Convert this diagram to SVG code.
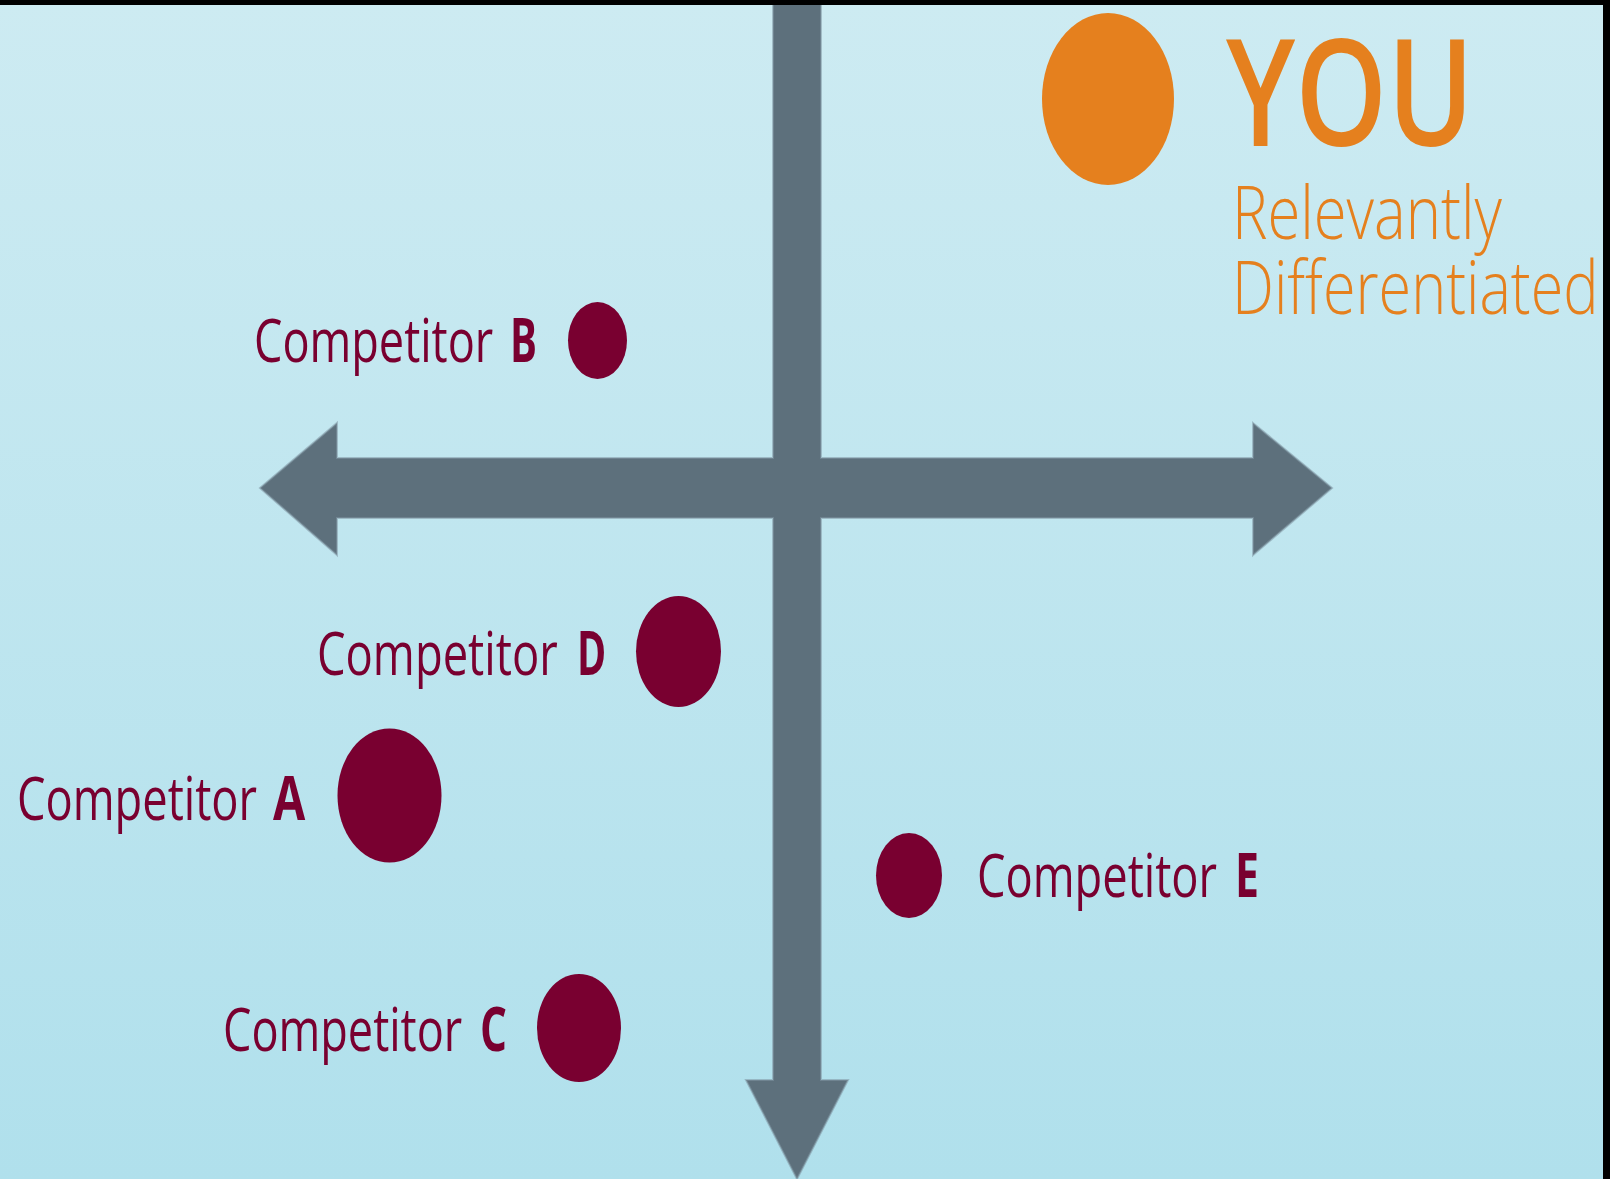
<svg xmlns="http://www.w3.org/2000/svg" width="1610" height="1179" viewBox="0 0 1610 1179">
  <defs>
    <linearGradient id="bg" x1="0" y1="0" x2="0" y2="1">
      <stop offset="0" stop-color="#cdebf2"/>
      <stop offset="1" stop-color="#b0e0ec"/>
    </linearGradient>
    <style>
      .axis { fill: #5d707c; stroke: #7f96a2; stroke-width: 2; stroke-opacity: 0.55; }
      .dot { fill: #790030; }
      .you { fill: #e5801e; }
      .lbl { font-family: "Open Sans", "Liberation Sans", sans-serif; font-size: 60px; fill: #790030; }
      .lbl-b { font-family: "Open Sans", "Liberation Sans", sans-serif; font-size: 60px; font-weight: bold; fill: #790030; }
      .you-t { font-family: "Open Sans", "Liberation Sans", sans-serif; fill: #e5801e; }
    </style>
  </defs>

  <!-- backdrop -->
  <rect x="0" y="0" width="1610" height="1179" fill="url(#bg)"/>

  <!-- axes: one outline for the double-headed horizontal and the downward vertical -->
  <g id="connectors">
    <path class="axis" d="M773,0 H821 V458 H1253 V423 L1332,488 L1253,555 V518 H821 V1080 H848 L797,1179 L746,1080 H773 V518 H337 V555 L260,488 L337,423 V458 H773 Z"/>
  </g>

  <!-- YOU (lettering is set narrow: horizontal scale 0.78) -->
  <g id="node-you">
    <ellipse class="you" cx="1108" cy="99" rx="66" ry="86"/>
    <text class="you-t" transform="translate(1226,146) scale(0.78,1)" font-size="148" font-weight="600" textLength="318" lengthAdjust="spacingAndGlyphs">YOU</text>
    <text class="you-t" transform="translate(1232,239) scale(0.78,1)" font-size="74" font-weight="300" textLength="346" lengthAdjust="spacingAndGlyphs">Relevantly</text>
    <text class="you-t" transform="translate(1232,314) scale(0.78,1)" font-size="74" font-weight="300" textLength="470" lengthAdjust="spacingAndGlyphs">Differentiated</text>
  </g>

  <!-- competitors (labels set narrow: horizontal scale 0.75) -->
  <g id="node-b">
    <ellipse class="dot" cx="597.5" cy="340.5" rx="29.5" ry="38.5"/>
    <text class="lbl" transform="translate(254,362) scale(0.75,1)" textLength="319" lengthAdjust="spacingAndGlyphs">Competitor</text>
    <text class="lbl-b" transform="translate(510,362) scale(0.75,1)" textLength="36" lengthAdjust="spacingAndGlyphs">B</text>
  </g>
  <g id="node-d">
    <ellipse class="dot" cx="678.5" cy="651.5" rx="42.5" ry="55.5"/>
    <text class="lbl" transform="translate(317,675) scale(0.75,1)" textLength="321" lengthAdjust="spacingAndGlyphs">Competitor</text>
    <text class="lbl-b" transform="translate(577,675) scale(0.75,1)" textLength="39" lengthAdjust="spacingAndGlyphs">D</text>
  </g>
  <g id="node-a">
    <ellipse class="dot" cx="389.5" cy="795.5" rx="52" ry="67"/>
    <text class="lbl" transform="translate(17,820) scale(0.75,1)" textLength="320" lengthAdjust="spacingAndGlyphs">Competitor</text>
    <text class="lbl-b" transform="translate(273,820) scale(0.75,1)" textLength="43" lengthAdjust="spacingAndGlyphs">A</text>
  </g>
  <g id="node-e">
    <ellipse class="dot" cx="909" cy="875.5" rx="33" ry="42.5"/>
    <text class="lbl" transform="translate(977,897) scale(0.75,1)" textLength="320" lengthAdjust="spacingAndGlyphs">Competitor</text>
    <text class="lbl-b" transform="translate(1235,897) scale(0.75,1)" textLength="32" lengthAdjust="spacingAndGlyphs">E</text>
  </g>
  <g id="node-c">
    <ellipse class="dot" cx="579" cy="1028" rx="42" ry="54"/>
    <text class="lbl" transform="translate(223,1051) scale(0.75,1)" textLength="319" lengthAdjust="spacingAndGlyphs">Competitor</text>
    <text class="lbl-b" transform="translate(480,1051) scale(0.75,1)" textLength="36" lengthAdjust="spacingAndGlyphs">C</text>
  </g>

  <!-- frame edges -->
  <rect x="0" y="0" width="1610" height="5" fill="#000"/>
  <rect x="1603" y="0" width="7" height="1179" fill="#000"/>
</svg>
